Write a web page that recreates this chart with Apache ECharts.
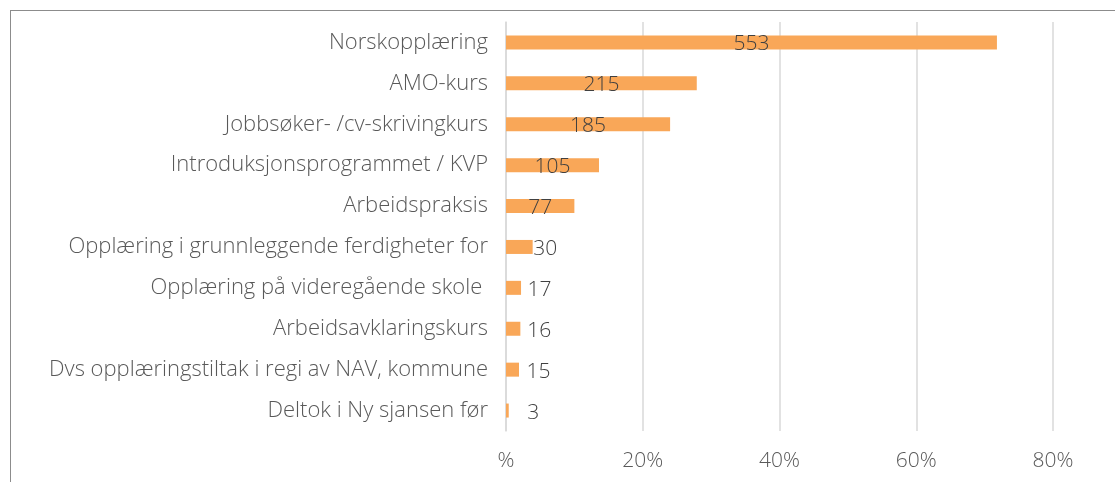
<!DOCTYPE html>
<html>
<head>
<meta charset="utf-8">
<script src="https://cdn.jsdelivr.net/npm/echarts@6/dist/echarts.min.js"></script>
<style>
  html, body { margin: 0; padding: 0; background: #fff; }
  #frame { position: absolute; left: 10px; top: 10px; width: 1200px; height: 600px; border: 1px solid #8c8c8c; box-sizing: border-box; }
  #chart { position: absolute; left: 0; top: 0; width: 1115px; height: 482px; }
</style>
</head>
<body>
<div id="frame"></div>
<div id="chart"></div>
<script>
// categories, top to bottom as in the picture
var categories = [
	"Norskopplæring",
	"AMO-kurs",
	"Jobbsøker- /cv-skrivingkurs",
	"Introduksjonsprogrammet / KVP",
	"Arbeidspraksis",
	"Opplæring i grunnleggende ferdigheter for",
	"Opplæring på videregående skole ",
	"Arbeidsavklaringskurs",
	"Dvs opplæringstiltak i regi av NAV, kommune",
	"Deltok i Ny sjansen før"
];
// bar lengths (percent)
var percents = [71.8, 27.9, 24.0, 13.6, 10.0, 3.9, 2.2, 2.1, 1.9, 0.4];
// counts shown as data labels
var counts = [553, 215, 185, 105, 77, 30, 17, 16, 15, 3];
var xTicks = [0, 20, 40, 60, 80];

var font = "'Open Sans', 'Noto Sans', sans-serif";

var chart = echarts.init(document.getElementById("chart"), null, {renderer: "canvas"});

var seriesData = percents.map(function(p, i) {
	var small = counts[i] < 50;
	return {
		value: p,
		label: {
			show: true,
			position: "inside",
			offset: small ? [26, 2] : [0, 2],
			formatter: String(counts[i])
		}
	};
});

chart.setOption({
	animation: false,
	grid: {left: 506, right: 62, top: 22, bottom: 51, containLabel: false},
	xAxis: {
		type: "value",
		min: xTicks[0],
		max: xTicks[xTicks.length - 1],
		interval: 20,
		axisLine: {show: false},
		axisTick: {show: false},
		splitLine: {lineStyle: {color: "#d9d9d9", width: 1.5}},
		axisLabel: {
			color: "#595959",
			fontFamily: font,
			fontWeight: 300,
			fontSize: 21,
			margin: 20,
			formatter: function(v) { return v === 0 ? "%" : v + "%"; }
		}
	},
	yAxis: {
		type: "category",
		inverse: true,
		data: categories,
		axisLine: {show: true, lineStyle: {color: "#d9d9d9", width: 1.5}},
		axisTick: {show: false},
		axisLabel: {
			color: "#595959",
			fontFamily: font,
			fontWeight: 300,
			fontSize: 22,
			margin: 18,
			padding: [4, 0, 0, 0]
		}
	},
	series: [{
		type: "bar",
		data: seriesData,
		barWidth: 14,
		itemStyle: {color: "#f9a758"},
		label: {
			color: "#404040",
			fontFamily: font,
			fontWeight: 300,
			fontSize: 21
		}
	}]
});
</script>
</body>
</html>
